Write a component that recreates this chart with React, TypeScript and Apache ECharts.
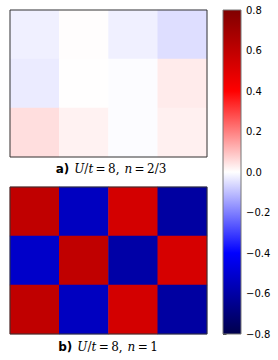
import React, { useEffect, useRef } from "react";
import * as echarts from "echarts";

const cols = ["0", "1", "2", "3"];
const rows = ["0", "1", "2"];
// values by row (top to bottom), columns left to right
const valuesA: number[][] = [
  [-0.024, 0.003, -0.024, -0.052],
  [-0.031, 0.002, -0.005, 0.031],
  [0.052, 0.02, -0.005, 0.024],
];
const valuesB: number[][] = [
  [0.6, -0.54, 0.54, -0.61],
  [-0.52, 0.6, -0.6, 0.53],
  [0.6, -0.54, 0.54, -0.61],
];
const cbarTicks = [-0.8, -0.6, -0.4, -0.2, 0, 0.2, 0.4, 0.6, 0.8];
const seismic = ["#00004c", "#0000ff", "#ffffff", "#ff0000", "#800000"];
const vmin = -0.8;
const vmax = 0.8;

function toData(vals: number[][]) {
  const d: [number, number, number][] = [];
  vals.forEach((r, ri) => r.forEach((v, ci) => d.push([ci, ri, v])));
  return d;
}

const fmt = (v: number) => (v < 0 ? "\u2212" + Math.abs(v).toFixed(1) : v.toFixed(1));

export default function App() {
  const ref = useRef<HTMLDivElement>(null);
  useEffect(() => {
    document.body.style.margin = "0";
    const chart = echarts.init(ref.current!, null, { renderer: "svg" });
    const catAxis = (gi: number, data: string[], inverse = false) => ({
      type: "category" as const,
      gridIndex: gi,
      data,
      inverse,
      axisLine: { show: false },
      axisTick: { show: false },
      axisLabel: { show: false },
      splitLine: { show: false },
    });
    const captionRich = {
      a: { fontFamily: "DejaVu Sans", fontWeight: "bold", fontSize: 12, color: "#000" },
      m: { fontFamily: "DejaVu Serif", fontWeight: "normal", fontStyle: "italic", fontSize: 12, color: "#000" },
      r: { fontFamily: "DejaVu Serif", fontWeight: "normal", fontSize: 12, color: "#000" },
    };
    chart.setOption({
      animation: false,
      backgroundColor: "#fff",
      title: [
        {
          text: "{a|a)} {m|U}{r|/}{m|t}{r|\u2009=\u20098,} {m|n}{r|\u2009=\u20092/3}",
          left: 111,
          top: 160,
          textAlign: "center",
          padding: 0,
          textStyle: { fontWeight: "normal", rich: captionRich },
        },
        {
          text: "{a|b)} {m|U}{r|/}{m|t}{r|\u2009=\u20098,} {m|n}{r|\u2009=\u20091}",
          left: 108,
          top: 338,
          textAlign: "center",
          padding: 0,
          textStyle: { fontWeight: "normal", rich: captionRich },
        },
      ],
      grid: [
        { left: 10, top: 10, width: 197, height: 147, show: true, borderColor: "#333", borderWidth: 1, backgroundColor: "transparent", z: 5 },
        { left: 10, top: 187, width: 197, height: 147, show: true, borderColor: "#333", borderWidth: 1, backgroundColor: "transparent", z: 5 },
        { left: 223, top: 10, width: 18, height: 324, show: true, borderColor: "#777", borderWidth: 1, backgroundColor: "transparent", z: 5 },
      ],
      xAxis: [
        catAxis(0, cols),
        catAxis(1, cols),
        { type: "value", gridIndex: 2, min: 0, max: 1, show: false },
      ],
      yAxis: [
        catAxis(0, rows, true),
        catAxis(1, rows, true),
        {
          type: "value",
          gridIndex: 2,
          position: "right",
          min: vmin,
          max: vmax,
          interval: 0.2,
          axisLine: { show: false },
          axisTick: { show: true, length: 3.5, lineStyle: { color: "#000", width: 0.8 } },
          axisLabel: {
            margin: 5,
            fontFamily: "DejaVu Sans",
            fontSize: 10,
            color: "#000",
            formatter: (v: number) => (cbarTicks.some((t) => Math.abs(t - v) < 1e-6) ? fmt(v) : ""),
          },
          splitLine: { show: false },
        },
      ],
      visualMap: {
        show: false,
        type: "continuous",
        min: vmin,
        max: vmax,
        seriesIndex: [0, 1],
        dimension: 2,
        inRange: { color: seismic },
      },
      series: [
        { type: "heatmap", xAxisIndex: 0, yAxisIndex: 0, data: toData(valuesA) },
        { type: "heatmap", xAxisIndex: 1, yAxisIndex: 1, data: toData(valuesB) },
        {
          type: "custom",
          xAxisIndex: 2,
          yAxisIndex: 2,
          data: [[0, vmax, 1, vmin]],
          renderItem: (params: any, api: any) => {
            const p1 = api.coord([api.value(0), api.value(1)]);
            const p2 = api.coord([api.value(2), api.value(3)]);
            return {
              type: "rect",
              shape: { x: p1[0], y: p1[1], width: p2[0] - p1[0], height: p2[1] - p1[1] },
              style: {
                fill: new echarts.graphic.LinearGradient(
                  0, 0, 0, 1,
                  seismic
                    .slice()
                    .reverse()
                    .map((c, i) => ({ offset: i / (seismic.length - 1), color: c }))
                ),
              },
            };
          },
        },
      ],
    });
    return () => chart.dispose();
  }, []);
  return <div ref={ref} style={{ width: 278, height: 360 }} />;
}
